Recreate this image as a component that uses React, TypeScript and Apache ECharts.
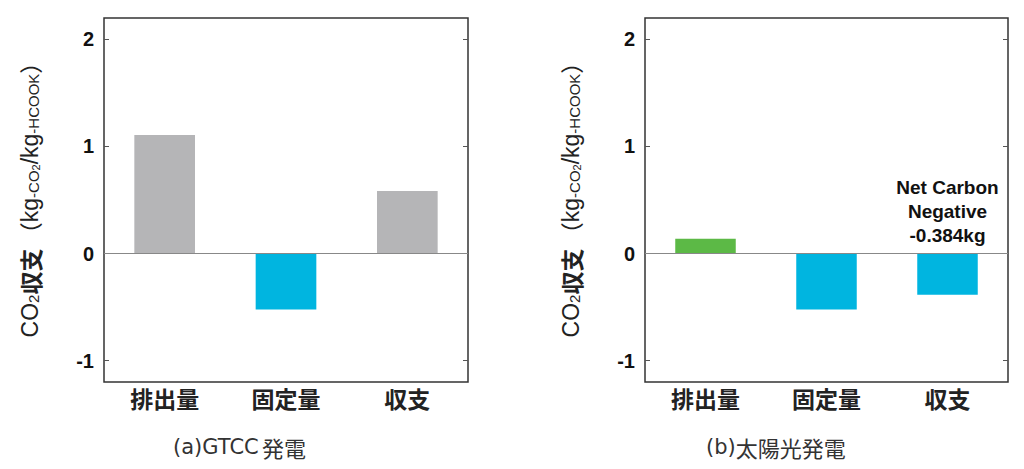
import React, { useEffect, useRef } from "react";
import * as echarts from "echarts";

const categories = ["排出量", "固定量", "収支"];
const gtccValues = [1.107, -0.523, 0.584];
const solarValues = [0.139, -0.523, -0.384];
const gtccColors = ["#b5b5b7", "#00b5e0", "#b5b5b7"];
const solarColors = ["#5cb946", "#00b5e0", "#00b5e0"];
const yTicks = [-1, 0, 1, 2];
const subtitleLatin = ["(a)GTCC", "(b)"];
const subtitleCJK = ["発電", "太陽光発電"];
const annotation = "Net Carbon\nNegative\n-0.384kg";

const nameText =
  "{a|CO}{s|2}{b|収支} {c|（}{a|kg}{t|-CO}{u|2}{a|/kg}{t|-HCOOK}{c|）}";

export default function App() {
  const ref = useRef<HTMLDivElement>(null);
  useEffect(() => {
    if (!ref.current) return;
    const chart = echarts.init(ref.current, null, { renderer: "svg" });
    const grids = [
      { left: 104, top: 18, width: 364, height: 364 },
      { left: 645, top: 18, width: 363, height: 364 },
    ];
    const yAxes: any[] = [];
    const xAxes: any[] = [];
    grids.forEach((g, i) => {
      xAxes.push({
        type: "category",
        gridIndex: i,
        data: categories,
        axisLine: { show: false, onZero: false },
        axisTick: { show: false },
        axisLabel: {
          fontSize: 23,
          fontWeight: "bold",
          color: "#222",
          margin: 4,
          fontFamily: "Noto Sans CJK JP",
        },
      });
      yAxes.push({
        type: "value",
        gridIndex: i,
        min: -1.2,
        max: 2.2,
        interval: 1,
        splitLine: { show: false },
        axisLine: { show: false },
        axisTick: {
          show: true,
          inside: true,
          length: 5,
          lineStyle: { color: "#555" },
          customValues: yTicks,
        },
        axisLabel: {
          fontSize: 20,
          fontWeight: "bold",
          color: "#111",
          margin: 10,
          fontFamily: "Liberation Sans",
          customValues: yTicks,
          formatter: (v: number) => String(v),
        },
        name: nameText,
        nameLocation: "middle",
        nameRotate: 90,
        nameGap: 63,
        nameTextStyle: {
          color: "#222",
          fontFamily: "Liberation Sans",
          padding: [0, 0, 0, 12],
          rich: {
            a: { fontSize: 23, fontFamily: "Liberation Sans", verticalAlign: "bottom", lineHeight: 26 },
            c: { fontSize: 23, fontFamily: "Noto Sans CJK JP", verticalAlign: "bottom", lineHeight: 26 },
            b: { fontSize: 23, fontWeight: "bold", fontFamily: "Noto Sans CJK JP", verticalAlign: "bottom", lineHeight: 26 },
            s: { fontSize: 15, fontFamily: "Liberation Sans", verticalAlign: "bottom", lineHeight: 23 },
            t: { fontSize: 15, fontFamily: "Liberation Sans", verticalAlign: "bottom", lineHeight: 24 },
            u: { fontSize: 11, fontFamily: "Liberation Sans", verticalAlign: "bottom", lineHeight: 23 },
          },
        },
      });
      yAxes.push({
        type: "value",
        gridIndex: i,
        position: "right",
        min: -1.2,
        max: 2.2,
        interval: 1,
        splitLine: { show: false },
        axisLine: { show: false },
        axisLabel: { show: false },
        axisTick: {
          show: true,
          inside: true,
          length: 5,
          lineStyle: { color: "#555" },
          customValues: yTicks,
        },
      });
    });
    const mkSeries = (i: number, values: number[], colors: string[], withNote: boolean) => ({
      type: "bar",
      xAxisIndex: i,
      yAxisIndex: i * 2,
      barWidth: "50%",
      data: values.map((v, k) => ({ value: v, itemStyle: { color: colors[k] } })),
      markLine: {
        silent: true,
        symbol: "none",
        label: { show: false },
        lineStyle: { color: "#888", width: 1, type: "solid" },
        data: [{ yAxis: 0 }],
      },
      markPoint: withNote
        ? {
            symbol: "circle",
            symbolSize: 0,
            silent: true,
            data: [{ coord: [categories[2], 0] }],
            label: {
              show: true,
              position: "top",
              distance: 6,
              formatter: annotation,
              fontSize: 19,
              fontWeight: "bold",
              lineHeight: 24,
              color: "#111",
              fontFamily: "Liberation Sans",
              align: "center",
            },
          }
        : undefined,
    });
    const subStyle = (i: number) => ({
      text: `{l|${subtitleLatin[i]}}${i === 0 ? " " : ""}{c|${subtitleCJK[i]}}`,
      fill: "#333",
      rich: {
        l: { fontSize: 21, fontFamily: "DejaVu Sans", fill: "#333" },
        c: { fontSize: 22, fontFamily: "Noto Sans CJK JP", fill: "#333" },
      },
    });
    chart.setOption({
      animation: false,
      grid: grids.map((g) => ({
        ...g,
        show: true,
        borderColor: "#333",
        borderWidth: 1.5,
        backgroundColor: "transparent",
      })),
      xAxis: xAxes,
      yAxis: yAxes,
      series: [mkSeries(0, gtccValues, gtccColors, false), mkSeries(1, solarValues, solarColors, true)],
      graphic: [
        { type: "text", left: 173, top: 436, style: subStyle(0) },
        { type: "text", left: 706, top: 436, style: subStyle(1) },
      ],
    });
    return () => chart.dispose();
  }, []);
  return (
    <div
      ref={ref}
      style={{ position: "absolute", left: 0, top: 0, width: 1024, height: 469, background: "#fff" }}
    />
  );
}
